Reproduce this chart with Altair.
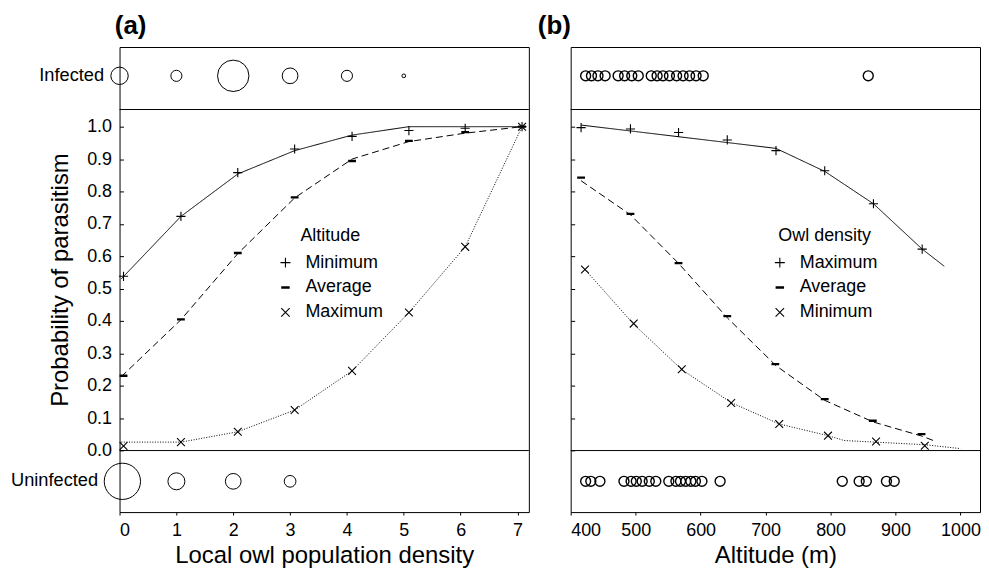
import altair as alt
import pandas as pd

FONT = "Liberation Sans"
W, H = 411, 467
Y_DOMAIN = [-0.19, 1.246]
SEP_TOP = 1.053
STRIP_INF = 1.157
STRIP_UNINF = -0.095

PLUS = "M-1,0L1,0M0,-1L0,1"
MINUS = "M-0.85,-0.13L0.85,-0.13M-0.85,-0.04L0.85,-0.04M-0.85,0.04L0.85,0.04M-0.85,0.13L0.85,0.13"
TIMES = "M-0.85,-0.85L0.85,0.85M-0.85,0.85L0.85,-0.85"
DASHES = [[1, 0], [7, 4], [1, 1.6]]

# ---------------- Panel (a) data ----------------
density_pts = [0.07, 1.08, 2.08, 3.08, 4.09, 5.09, 6.08, 7.08]
a_min_pts = [0.538, 0.723, 0.858, 0.931, 0.970, 0.988, 0.995, 1.0]
a_avg_pts = [0.231, 0.405, 0.610, 0.782, 0.894, 0.956, 0.983, 1.0]
a_max_pts = [0.014, 0.026, 0.058, 0.125, 0.246, 0.426, 0.629, 1.0]

density_line = [0.03, 1.08, 2.08, 3.08, 4.09, 5.09, 6.08, 7.08]
a_min_line = [0.53, 0.723, 0.854, 0.926, 0.974, 1.0, 1.0, 1.0]
a_avg_line = [0.228, 0.404, 0.608, 0.78, 0.9, 0.954, 0.98, 1.0]
a_max_line = [0.026, 0.026, 0.058, 0.125, 0.246, 0.426, 0.629, 1.0]

inf_density = [0, 1, 2, 3, 4, 5]
inf_n = [22, 9, 72, 18, 9, 1]
uninf_density = [0.05, 1, 2, 3]
uninf_n = [96, 21, 18, 10]

a_series = ["Minimum", "Average", "Maximum"]

# ---------------- Panel (b) data ----------------
b_x_plus = [416, 492, 566, 641, 716, 791, 866, 941]
b_max_pts = [0.997, 0.993, 0.982, 0.959, 0.926, 0.864, 0.762, 0.622]
b_x_avg = [416, 492, 566, 641, 715, 791, 865, 940]
b_avg_pts = [0.843, 0.731, 0.579, 0.415, 0.267, 0.159, 0.092, 0.051]
b_x_times = [422, 497, 571, 647, 721, 796, 870, 945]
b_min_pts = [0.559, 0.392, 0.251, 0.147, 0.082, 0.046, 0.028, 0.015]

b_max_line_x = [416, 716, 791, 866, 941, 975]
b_max_line_y = [1.005, 0.933, 0.862, 0.762, 0.622, 0.569]
b_avg_line_x = [416, 492, 566, 641, 716, 791, 866, 940, 962]
b_avg_line_y = [0.833, 0.728, 0.578, 0.41, 0.262, 0.155, 0.088, 0.045, 0.028]
b_min_line_x = [422, 497, 571, 647, 721, 796, 821, 945, 1000]
b_min_line_y = [0.559, 0.39, 0.25, 0.148, 0.082, 0.046, 0.031, 0.018, 0.006]

inf_alt = [423, 432, 442, 453, 473, 483, 494, 504, 524, 533, 542, 552, 563,
           573, 583, 593, 604, 858]
uninf_alt = [423, 431, 445, 482, 493, 501, 510, 521, 531, 551, 562, 569, 577,
             585, 592, 602, 630, 818, 844, 855, 886, 898]

b_series = ["Maximum", "Average", "Minimum"]


def long(xs_list, ys_list, names, key):
    rows = []
    for xs, ys, n in zip(xs_list, ys_list, names):
        for x, y in zip(xs, ys):
            rows.append({"x": x, "y": y, key: n})
    return pd.DataFrame(rows)


def y_enc(show_labels):
    axis = alt.Axis(
        values=[round(i * 0.1, 1) for i in range(11)], format=".1f",
        labels=show_labels, ticks=False, domain=False,
        grid=True, gridColor="black", gridDash=[4, 2000], gridWidth=1, gridOpacity=1,
        labelFontSize=18, labelPadding=8,
        titleFontSize=24, titleX=-59, titleBaseline="middle",
    )
    return alt.Y("y:Q", scale=alt.Scale(domain=Y_DOMAIN, nice=False, zero=False),
                 axis=axis, title="Probability of parasitism" if show_labels else None)


def x_enc(domain, values, title):
    axis = alt.Axis(values=values, format="d", tickSize=3, tickColor="black",
                    domain=False, grid=False, labelFontSize=18, labelPadding=7,
                    titleFontSize=24, titlePadding=4)
    return alt.X("x:Q", scale=alt.Scale(domain=domain, nice=False, zero=False),
                 axis=axis, title=title)


def panel(X, Y, pts, lines, series, legend_title, legend_x,
          strip_layers, title_text, title_dx):
    shape_scale = alt.Scale(domain=series, range=[PLUS, MINUS, TIMES])
    seps = alt.Chart(pd.DataFrame({"y": [0.0, SEP_TOP]})).mark_rule(
        color="black", strokeWidth=1).encode(y=Y)
    line_layers = [
        alt.Chart(lines).transform_filter(alt.datum.curve == name).mark_line(
            color="black", strokeWidth=1, strokeDash=dash).encode(x=X, y=Y)
        for name, dash in zip(series, DASHES)
    ]
    pt_layer = alt.Chart(pts).mark_point(
        filled=False, color="black", strokeWidth=1.1, opacity=1, size=85
    ).encode(
        x=X, y=Y,
        shape=alt.Shape("series:N", scale=shape_scale, title=legend_title,
                        legend=alt.Legend(
            orient="none", legendX=legend_x, legendY=180.5,
            titleFontSize=18, titleFontWeight="normal", titleFont=FONT,
            titleAnchor="middle",
            titleColor="black", labelColor="black",
            labelFontSize=18, labelFont=FONT, symbolSize=100,
            symbolStrokeWidth=1.1, symbolStrokeColor="black",
            rowPadding=7, titlePadding=9, labelOffset=11, padding=0)))
    layers = [seps] + line_layers + [pt_layer] + strip_layers
    return alt.layer(*layers).properties(
        width=W, height=H,
        title=alt.TitleParams(title_text, anchor="start", frame="group", fontSize=26,
                              fontWeight="bold", font=FONT, dx=title_dx, offset=8,
                              color="black"))


# ---------- Panel (a) ----------
Xa = x_enc([0, 7.2], list(range(8)), "Local owl population density")
Ya = y_enc(True)
pts_a = long([density_pts] * 3, [a_min_pts, a_avg_pts, a_max_pts], a_series, "series")
lines_a = long([density_line] * 3, [a_min_line, a_avg_line, a_max_line], a_series, "curve")

size_scale = alt.Scale(domain=[0, 100], range=[0, 1382])
inf_a = pd.DataFrame({"x": inf_density, "n": inf_n, "y": STRIP_INF})
uninf_a = pd.DataFrame({"x": uninf_density, "n": uninf_n, "y": STRIP_UNINF})
circ_a = [
    alt.Chart(d).mark_point(shape="circle", filled=False, color="black",
                            strokeWidth=1, opacity=1).encode(
        x=Xa, y=Ya, size=alt.Size("n:Q", scale=size_scale, legend=None))
    for d in (inf_a, uninf_a)
]
lab_inf = alt.Chart(pd.DataFrame({"x": [0], "y": [STRIP_INF], "label": ["Infected"]})).mark_text(
    align="right", baseline="middle", fontSize=18.3, font=FONT, dx=-15.5, color="black"
).encode(x=Xa, y=Ya, text="label:N")
lab_uninf = alt.Chart(pd.DataFrame({"x": [0], "y": [STRIP_UNINF], "label": ["Uninfected"]})).mark_text(
    align="right", baseline="middle", fontSize=18.3, font=FONT, dx=-21.5, color="black"
).encode(x=Xa, y=Ya, text="label:N")

chart_a = panel(Xa, Ya, pts_a, lines_a, a_series, "Altitude", 157.6,
                circ_a + [lab_inf, lab_uninf], "(a)", -4.7)

# ---------- Panel (b) ----------
Xb = x_enc([400, 1030], list(range(400, 1001, 100)), "Altitude (m)")
Yb = y_enc(False)
pts_b = long([b_x_plus, b_x_avg, b_x_times], [b_max_pts, b_avg_pts, b_min_pts],
             b_series, "series")
lines_b = long([b_max_line_x, b_avg_line_x, b_min_line_x],
               [b_max_line_y, b_avg_line_y, b_min_line_y], b_series, "curve")
inf_b = pd.DataFrame({"x": inf_alt, "y": STRIP_INF})
uninf_b = pd.DataFrame({"x": uninf_alt, "y": STRIP_UNINF})
circ_b = [
    alt.Chart(d).mark_point(shape="circle", filled=False, color="black",
                            strokeWidth=1.4, opacity=1, size=100).encode(x=Xb, y=Yb)
    for d in (inf_b, uninf_b)
]
chart_b = panel(Xb, Yb, pts_b, lines_b, b_series, "Owl density", 201,
                circ_b, "(b)", -33)

chart = alt.hconcat(chart_a, chart_b, spacing=42, bounds="flush").resolve_scale(
    shape="independent", x="independent", y="independent"
).resolve_legend(shape="independent").properties(
    padding={"left": 2, "top": 3, "right": 0, "bottom": 5}
).configure_view(stroke="black", strokeWidth=1).configure_axis(
    labelFont=FONT, titleFont=FONT, labelColor="black", titleColor="black",
    titleFontWeight="normal"
).configure_legend(labelFont=FONT, titleFont=FONT)

chart.save("out.html", embed_options={"renderer": "svg", "actions": False})
